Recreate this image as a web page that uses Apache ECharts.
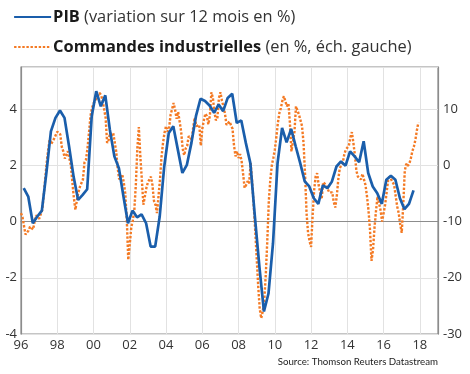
<!DOCTYPE html>
<html>
<head>
<meta charset="utf-8">
<script src="https://cdn.jsdelivr.net/npm/echarts@6/dist/echarts.min.js"></script>
<style>
html,body{margin:0;padding:0;background:#fff;}
#c{width:470px;height:374px;}
</style>
</head>
<body>
<div id="c"></div>
<script>
// PIB, variation sur 12 mois en % (quarterly, from early 1996)
const pibStart = 1996.15;
const pibValues = [1.19,0.89,-0.06,0.18, 0.39,1.73,3.21,3.69, 3.95,3.69,2.68,1.6, 0.77,0.95,1.15,3.75,
  4.64,4.1,4.49,3.27, 2.32,1.9,0.9,-0.06, 0.39,0.15,0.26,-0.06, -0.89,-0.89,0.18,1.96,
  3.15,3.39,2.56,1.73, 2.02,2.8,3.75,4.37, 4.29,4.13,3.87,4.17, 3.93,4.4,4.55,3.51,
  3.6,2.8,2.08,0.18, -1.61,-3.2,-2.56,-0.77, 2.08,3.33,2.82,3.3, 2.68,2.08,1.43,1.25,
  0.83,0.63,1.29,1.19, 1.43,1.96,2.14,1.99, 2.5,2.32,2.11,2.86, 1.73,1.25,1.01,0.63,
  1.49,1.63,1.49,0.83, 0.44,0.63,1.11];

// Commandes industrielles, en % (monthly, from Jan 1996)
const ordersStart = 1996;
const ordersValues = [
  -8.5,-9.2,-10.8,-12.3,-12.5,-11.6,-10.9,-10.6,-11.4,-10.0,-8.9,-9.2,
  -9.5,-9.6,-8.0,-5.5,-2.5,0.5,2.8,4.6,3.8,4.0,4.8,5.4,
  6.0,6.2,5.5,3.3,2.5,1.2,1.0,2.5,2.2,0.0,-3.0,-5.8,
  -7.9,-6.2,-4.8,-3.8,-3.5,-2.5,0.5,1.0,3.0,5.8,8.8,10.2,
  11.0,11.5,12.0,12.4,12.9,12.5,11.5,10.0,8.5,4.0,4.5,5.8,
  5.2,5.8,6.0,2.5,-0.5,-2.5,-2.0,-1.6,-3.0,-5.0,-9.5,-16.8,
  -14.0,-11.0,-9.8,-8.0,-3.5,3.0,6.8,1.5,-2.6,-7.0,-5.5,-4.0,
  -3.0,-3.3,-2.0,-3.5,-6.3,-7.0,-8.5,-5.5,-2.5,1.5,4.0,5.8,
  7.0,6.0,6.5,9.0,10.0,11.1,9.9,8.3,9.5,7.8,6.0,3.0,
  1.8,3.0,3.5,5.2,4.9,4.6,6.8,8.5,7.0,6.8,7.2,3.5,
  6.5,8.0,9.2,8.75,7.3,8.8,13.0,12.0,9.5,8.0,8.5,12.0,
  13.0,11.5,10.5,9.2,7.2,7.3,7.8,7.5,6.5,3.5,1.6,2.5,
  1.3,2.0,0.8,-1.5,-4.0,-3.5,-2.8,-3.2,0.4,-3.0,-7.0,-11.5,
  -16.5,-21.5,-25.5,-27.2,-26.0,-24.0,-19.5,-13.5,-6.5,-2.6,0.0,1.3,
  2.8,5.0,7.5,9.3,10.2,11.5,12.3,12.0,10.5,11.0,7.5,2.5,
  2.5,6.0,10.5,10.8,9.0,8.0,7.0,4.0,-1.5,-8.5,-12.0,-13.5,
  -14.5,-9.0,-4.5,-2.0,-1.4,-3.5,-4.8,-6.0,-3.0,-2.7,-3.5,-4.2,
  -4.8,-5.0,-4.8,-6.5,-7.5,-5.5,-2.5,-0.5,-0.8,0.5,2.0,2.8,
  2.5,3.5,5.0,5.9,4.0,1.8,-1.0,-2.0,-1.8,-2.5,-1.5,-1.8,
  -3.5,-5.5,-8.0,-11.5,-17.0,-15.0,-11.0,-8.0,-5.5,-5.5,-8.0,-10.0,
  -10.0,-7.0,-4.8,-2.6,-2.0,-2.5,-2.2,-3.5,-5.5,-7.3,-8.5,-10.5,
  -12.0,-7.0,-1.0,0.3,-0.1,0.3,1.2,2.5,3.3,4.5,6.2,7.6
];

const xTicks = [1996,1998,2000,2002,2004,2006,2008,2010,2012,2014,2016,2018];
const leftTicks = [-4,-2,0,2,4];
const rightTicks = [-30,-20,-10,0,10];

const pibData = pibValues.map((v,i)=>[pibStart + i*0.25, v]);
const ordersData = ordersValues.map((v,i)=>[ordersStart + i/12, v]);

const FONT = 'Open Sans';
const chart = echarts.init(document.getElementById('c'), null, {renderer:'canvas'});
chart.setOption({
  animation:false,
  backgroundColor:'#fff',
  grid:{left:21, right:32, top:67, bottom:40, show:true, borderColor:'#8c8c8c', borderWidth:1.2, backgroundColor:'transparent'},
  legend:{
    orient:'vertical', left:8, top:4, itemWidth:37, itemHeight:16, itemGap:14,
    data:['PIB','Commandes industrielles'],
    itemStyle:{opacity:0},
    lineStyle:{width:2.2},
    formatter: n => n==='PIB' ? '{b|PIB} {n|(variation sur 12 mois en %)}' : '{b|Commandes industrielles} {n|(en %, éch. gauche)}',
    textStyle:{fontFamily:FONT, fontSize:16.4, padding:[0,0,0,-3], rich:{
      b:{fontFamily:FONT, fontSize:16.4, fontWeight:'bold', color:'#1a1a1a', lineHeight:16},
      n:{fontFamily:FONT, fontSize:16.4, color:'#333', lineHeight:16}
    }}
  },
  xAxis:{
    type:'value', min:1996, max:2019, interval:2,
    axisLine:{show:true, lineStyle:{color:'#8c8c8c', width:1.2}},
    axisTick:{show:false},
    splitLine:{show:true, lineStyle:{color:'#e2e2e2', width:1}},
    axisLabel:{fontFamily:FONT, fontSize:13, color:'#333', margin:5,
      formatter: v => xTicks.indexOf(v) >= 0 ? String(v%100).padStart(2,'0') : ''}
  },
  yAxis:[{
    type:'value', min:-4, max:5.5, interval:2, position:'left',
    axisLine:{show:true, lineStyle:{color:'#8c8c8c', width:1.2}},
    axisTick:{show:false},
    splitLine:{show:true, lineStyle:{color:'#e2e2e2', width:1}},
    axisLabel:{fontFamily:FONT, fontSize:13, color:'#333', margin:4,
      formatter: v => leftTicks.indexOf(v) >= 0 ? String(v) : ''}
  },{
    type:'value', min:-30, max:17.5, interval:10, position:'right',
    axisLine:{show:true, lineStyle:{color:'#8c8c8c', width:1.2}},
    axisTick:{show:false},
    splitLine:{show:false},
    axisLabel:{fontFamily:FONT, fontSize:13, color:'#333', margin:5,
      formatter: v => rightTicks.indexOf(v) >= 0 ? String(v) : ''}
  }],
  graphic:[{
    type:'text', right:32, top:357,
    style:{text:'Source: Thomson Reuters Datastream', fontFamily:'Lato', fontSize:9.7, fill:'#222'}
  }],
  series:[{
    name:'Commandes industrielles', type:'line', yAxisIndex:1, data:ordersData,
    symbol:'none', showSymbol:false,
    lineStyle:{color:'#f47a24', width:2.4, type:[2.4,1.7]},
    itemStyle:{color:'#f47a24'}
  },{
    name:'PIB', type:'line', yAxisIndex:0, data:pibData,
    symbol:'none', showSymbol:false,
    lineStyle:{color:'#1a5eab', width:2.7},
    itemStyle:{color:'#1a5eab'}
  }]
});
</script>
</body>
</html>
